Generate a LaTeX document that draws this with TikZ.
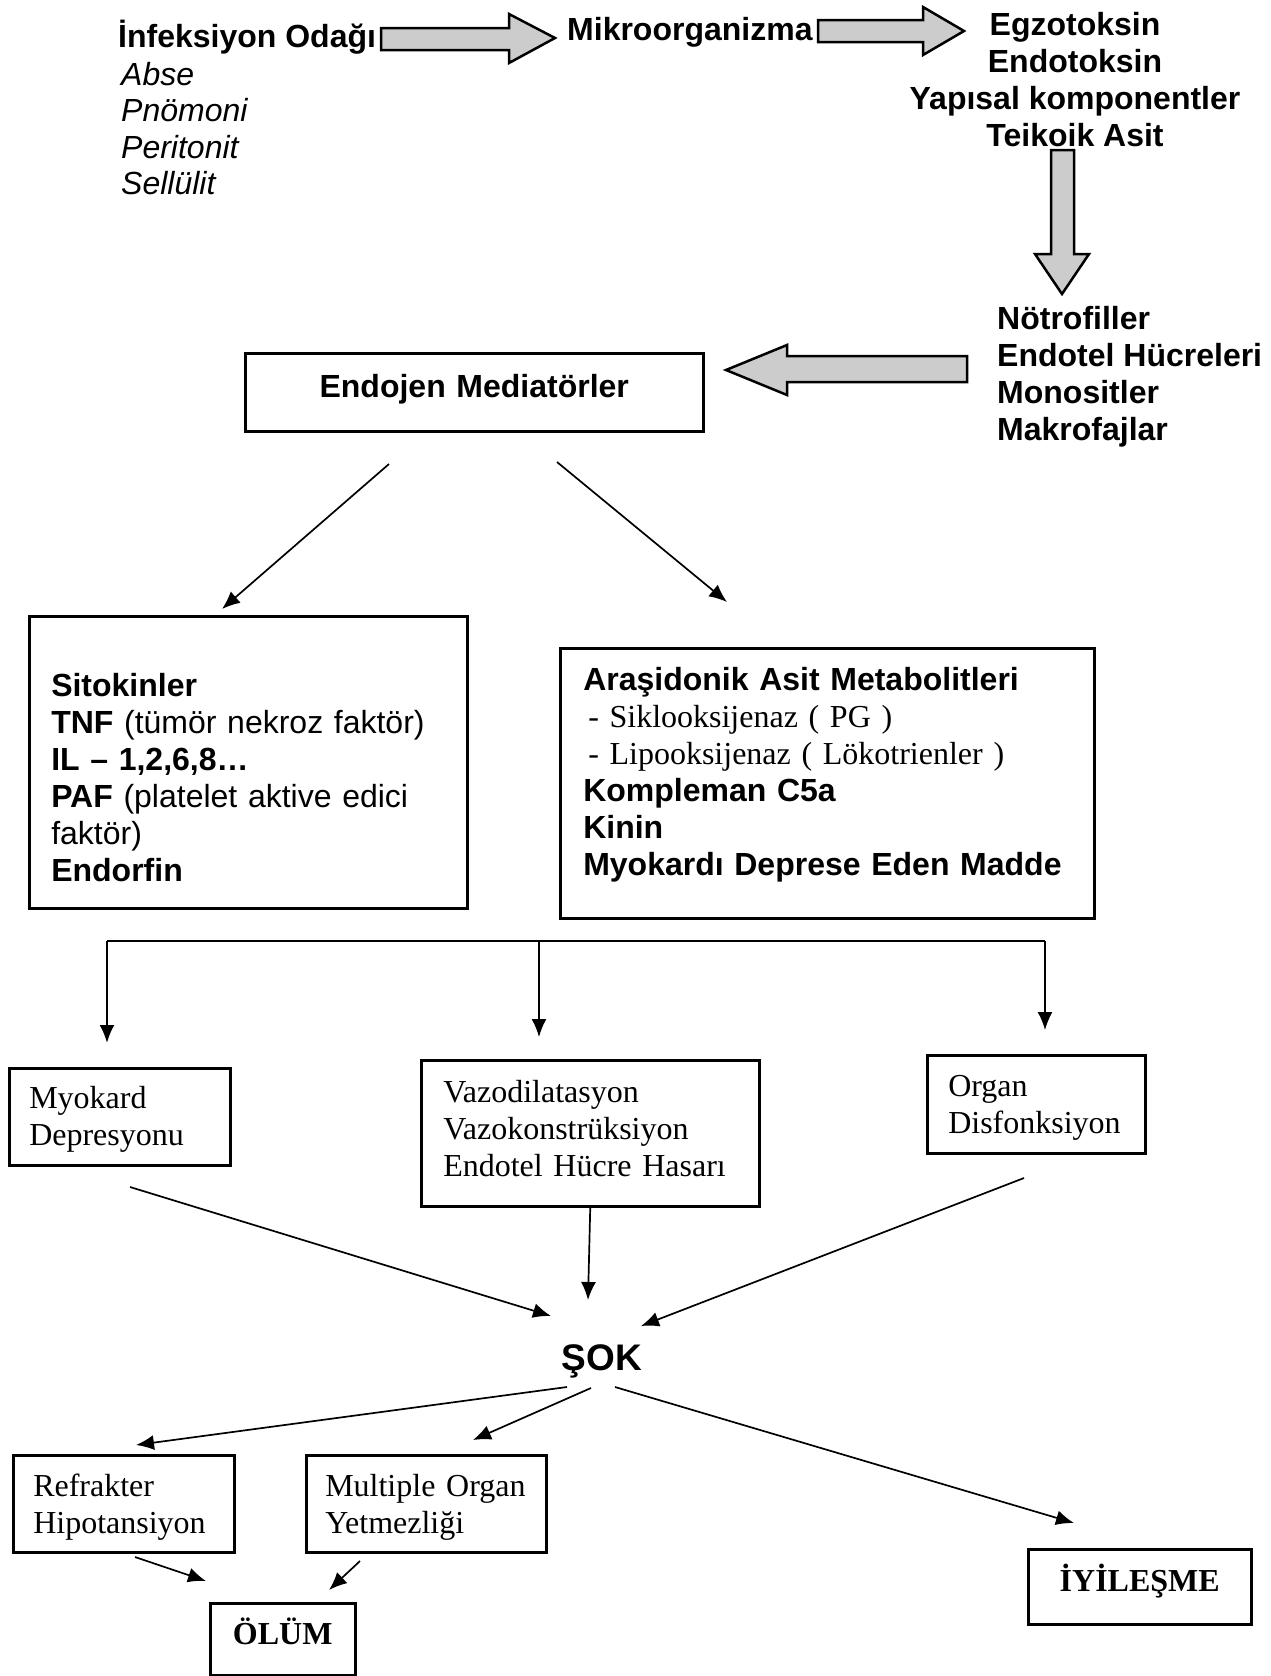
\documentclass[tikz,border=0pt]{standalone}
\usepackage{fontspec}
\setmainfont{Liberation Sans}
\newfontfamily\serifnt{Liberation Serif}
\usetikzlibrary{arrows.meta}
\newcommand\mytop[1]{\rule{0pt}{#1pt}}
\newcommand\mybot[1]{\rule[-#1pt]{0pt}{0pt}}
\begin{document}
\begin{tikzpicture}[x=1pt,y=-1pt,
  sans/.style={inner sep=0pt, font=\fontsize{32}{37}\selectfont\bfseries},
  ital/.style={inner sep=0pt, font=\fontsize{32}{36.5}\selectfont\itshape},
  box/.style={draw, line width=2.5pt, inner ysep=0pt, anchor=north west, align=left,
    font=\fontsize{32}{37}\selectfont\setlength{\parindent}{0pt}},
  sbox/.style={box, font=\serifnt\fontsize{32}{37}\selectfont\setlength{\parindent}{0pt}},
  arr/.style={line width=1.7pt, -{Latex[length=18pt,width=15pt]}},
  blk/.style={draw, line width=2.5pt, fill=gray!40, line join=miter}]
\useasboundingbox[fill=white] (0,0) rectangle (1271,1676);

% top row
\node[sans, anchor=base west] (inf) at (118,47) {İnfeksiyon Odağı};
\node[ital, anchor=north west, align=left] (list) at (121,55) {\mytop{30}Abse\\Pnömoni\\Peritonit\\Sellülit};
\node[sans, anchor=base west] (mik) at (567,40) {Mikroorganizma};
\node[sans, anchor=north, align=center] (tox) at (1075,5) {\mytop{30}Egzotoksin\\Endotoksin\\Yapısal komponentler\\Teikoik Asit};
\node[sans, anchor=north west, align=left] (cells) at (997,299) {\mytop{30}Nötrofiller\\Endotel Hücreleri\\Monositler\\Makrofajlar};

% block arrows
\draw[blk] (381,28) -- (509,28) -- (509,14) -- (555,38) -- (509,63) -- (509,50) -- (381,50) -- cycle;
\draw[blk] (818,20) -- (923,20) -- (923,7) -- (964,31) -- (923,55) -- (923,42) -- (818,42) -- cycle;
\draw[blk] (1051,150) -- (1051,254) -- (1035,254) -- (1062,294) -- (1089,254) -- (1074,254) -- (1074,150) -- cycle;
\draw[blk] (967,356) -- (787,356) -- (787,345) -- (726,370) -- (787,395) -- (787,382) -- (967,382) -- cycle;

% mediators
\node[box, align=center, inner xsep=0pt, text width=458pt, font=\fontsize{32}{37}\selectfont\bfseries] (endo) at (244,352)
  {\mytop{44}Endojen Mediatörler\mybot{34}};

\node[box, inner xsep=22pt, text width=394pt] (sito) at (28,615)
  {\mytop{80}\textbf{Sitokinler}\\
   \textbf{TNF} (tümör nekroz faktör)\\
   \textbf{IL – 1,2,6,8…}\\
   \textbf{PAF} (platelet aktive edici\\
   faktör)\\
   \textbf{Endorfin}\mybot{27}};

\node[box, inner xsep=23pt, text width=488pt] (ara) at (559,647)
  {\mytop{42}\textbf{Araşidonik Asit Metabolitleri}\\
   {\serifnt\hspace*{5pt}- Siklooksijenaz ( PG )}\\
   {\serifnt\hspace*{5pt}- Lipooksijenaz ( Lökotrienler )}\\
   \textbf{Kompleman C5a}\\
   \textbf{Kinin}\\
   \textbf{Myokardı Deprese Eden Madde}\mybot{43}};

\coordinate (e1) at (389,464); \coordinate (e2) at (222,609);
\coordinate (e3) at (557,462); \coordinate (e4) at (727,602);
\draw[arr] (e1) -- (e2);
\draw[arr] (e3) -- (e4);

% bracket
\coordinate (bl) at (107,941); \coordinate (bm) at (539,941); \coordinate (br) at (1045,941);
\coordinate (tl) at (107,1043); \coordinate (tm) at (539,1037); \coordinate (tr) at (1045,1030);
\draw[line width=2.5pt] (bl) -- (br);
\draw[arr, line width=2.2pt] (bl) -- (tl);
\draw[arr] (bm) -- (tm);
\draw[arr] (br) -- (tr);

% effects
\node[sbox, inner xsep=20pt, text width=181pt] (myo) at (8,1067) {\mytop{40}Myokard\\Depresyonu\mybot{20}};
\node[sbox, inner xsep=22pt, text width=294pt] (vazo) at (420,1059) {\mytop{42}Vazodilatasyon\\Vazokonstrüksiyon\\Endotel Hücre Hasarı\mybot{30}};
\node[sbox, inner xsep=21pt, text width=176pt] (org) at (926,1054) {\mytop{41}Organ\\Disfonksiyon\mybot{20}};

\node[inner sep=0pt, anchor=base, font=\fontsize{37}{40}\selectfont\bfseries] (sok) at (602,1370) {ŞOK};

\coordinate (s1) at (130,1187); \coordinate (s2) at (551,1316);
\coordinate (s3) at (588,1300);
\coordinate (s4) at (1024,1178); \coordinate (s5) at (641,1326);
\draw[arr] (s1) -- (s2);
\draw[arr] (vazo.south) -- (s3);
\draw[arr] (s4) -- (s5);

% outcomes
\node[sbox, inner xsep=20pt, text width=181pt] (ref) at (12,1454) {\mytop{41}Refrakter\\Hipotansiyon\mybot{19}};
\node[sbox, inner xsep=19pt, text width=202pt] (mul) at (305,1454) {\mytop{41}Multiple~Organ\\Yetmezliği\mybot{19}};
\node[sbox, align=center, inner xsep=0pt, text width=145pt, font=\serifnt\bfseries\fontsize{32}{37}\selectfont] (olum) at (209,1602) {\mytop{41.5}ÖLÜM\mybot{30.5}};
\node[sbox, align=center, inner xsep=0pt, text width=223pt, font=\serifnt\bfseries\fontsize{32}{37}\selectfont] (iyi) at (1027,1548) {\mytop{42.5}İYİLEŞME\mybot{32.5}};

\coordinate (o1) at (567,1387); \coordinate (o2) at (136,1445);
\coordinate (o3) at (591,1388); \coordinate (o4) at (473,1440);
\coordinate (o5) at (615,1387); \coordinate (o6) at (1074,1523);
\draw[arr] (o1) -- (o2);
\draw[arr] (o3) -- (o4);
\draw[arr] (o5) -- (o6);

\coordinate (d1) at (135,1557); \coordinate (d2) at (206,1581);
\coordinate (d3) at (360,1561); \coordinate (d4) at (329,1590);
\draw[arr] (d1) -- (d2);
\draw[arr] (d3) -- (d4);
\end{tikzpicture}
\end{document}
